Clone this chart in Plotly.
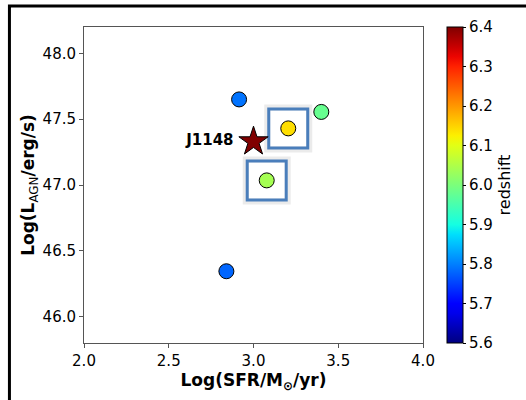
import numpy as np
import plotly.graph_objects as go

# Quasar sample: star formation rate vs AGN luminosity, coloured by redshift
log_sfr = [2.915, 3.40, 3.205, 3.078, 2.84]
log_lagn = [47.65, 47.555, 47.43, 47.035, 46.345]
redshift = [5.79, 5.98, 6.14, 6.04, 5.78]
boxed = [2, 3]

j1148_sfr = [3.0]
j1148_lagn = [47.33]
j1148_z = [6.42]
j1148_name = "J1148"

x_ticks = [2.0, 2.5, 3.0, 3.5, 4.0]
y_ticks = [46.0, 46.5, 47.0, 47.5, 48.0]
z_ticks = [5.6, 5.7, 5.8, 5.9, 6.0, 6.1, 6.2, 6.3, 6.4]

# matplotlib-style "jet" colour map
seg = {
    "r": [(0, 0), (0.35, 0), (0.66, 1), (0.89, 1), (1, 0.5)],
    "g": [(0, 0), (0.125, 0), (0.375, 1), (0.64, 1), (0.91, 0), (1, 0)],
    "b": [(0, 0.5), (0.11, 1), (0.34, 1), (0.65, 0), (1, 0)],
}
stops = np.linspace(0, 1, 33)
def chan(c):
    pts = seg[c]
    return np.interp(stops, [p[0] for p in pts], [p[1] for p in pts])
r, g, b = chan("r"), chan("g"), chan("b")
jet = [[float(s), f"rgb({int(round(rr*255))},{int(round(gg*255))},{int(round(bb*255))})"]
       for s, rr, gg, bb in zip(stops, r, g, b)]

FONT = "DejaVu Sans"
BOX = "#4a7ebb"
fig = go.Figure()

bx = [log_sfr[i] for i in boxed]
by = [log_lagn[i] for i in boxed]

# soft shadow behind the highlight boxes
fig.add_trace(go.Scatter(
    x=bx, y=by, mode="markers", hoverinfo="skip", showlegend=False,
    marker=dict(symbol="square-open", size=42, color="rgba(0,0,0,0.08)",
                line=dict(color="rgba(0,0,0,0.08)", width=6)),
))
fig.add_trace(go.Scatter(
    x=bx, y=by, mode="markers", hoverinfo="skip", showlegend=False,
    marker=dict(symbol="square-open", size=39, color=BOX,
                line=dict(color=BOX, width=3)),
))

fig.add_trace(go.Scatter(
    x=log_sfr, y=log_lagn, mode="markers", showlegend=False,
    marker=dict(size=15, color=redshift, coloraxis="coloraxis",
                line=dict(color="black", width=1)),
))

fig.add_trace(go.Scatter(
    x=j1148_sfr, y=j1148_lagn, mode="markers+text", showlegend=False,
    text=[j1148_name + " "], textposition="middle left",
    textfont=dict(family=FONT, size=15, color="black", weight="bold"),
    marker=dict(symbol="star", size=22, color=j1148_z, coloraxis="coloraxis",
                line=dict(color="black", width=1)),
))

L, R, T, B = 84, 101, 27, 57
W, H = 526, 400
pw, ph = W - L - R, H - T - B

# outer figure frame (right and bottom edges run past the canvas)
fig.add_shape(type="rect", xref="paper", yref="paper",
              x0=(9 - L) / pw, x1=(W + 10 - L) / pw,
              y0=-(B + 10) / ph, y1=(H - B - 6) / ph,
              line=dict(color="black", width=3), layer="below")

fig.update_layout(
    width=W, height=H,
    margin=dict(l=L, r=R, t=T, b=B),
    paper_bgcolor="white", plot_bgcolor="white",
    font=dict(family=FONT, size=15, color="black"),
    coloraxis=dict(
        colorscale=jet, cmin=5.6, cmax=6.4,
        colorbar=dict(
            x=(449 - L) / pw, xanchor="left", xpad=0, ypad=0,
            y=0.5, len=1.0, lenmode="fraction", thickness=16,
            outlinecolor="black", outlinewidth=1,
            tickvals=z_ticks, ticktext=[f"{v:.1f}" for v in z_ticks],
            ticks="outside", ticklen=3, tickcolor="black",
            tickfont=dict(family=FONT, size=15),
            title=dict(text="redshift", side="right",
                       font=dict(family=FONT, size=16)),
        ),
    ),
    xaxis=dict(
        range=[2.0, 4.0], tickvals=x_ticks,
        ticktext=[f"{v:.1f}" for v in x_ticks],
        showgrid=False, zeroline=False,
        showline=True, mirror=True, linecolor="#555555", linewidth=1,
        ticks="outside", ticklen=4, tickcolor="#555555",
        tickfont=dict(family=FONT, size=15),
        title=dict(text="<b>Log(SFR/M<sub>⊙</sub>/yr)</b>",
                   font=dict(family=FONT, size=17), standoff=3),
    ),
    yaxis=dict(
        range=[45.8, 48.2], tickvals=y_ticks,
        ticktext=[f"{v:.1f}" for v in y_ticks],
        showgrid=False, zeroline=False,
        showline=True, mirror=True, linecolor="#555555", linewidth=1,
        ticks="outside", ticklen=4, tickcolor="#555555",
        tickfont=dict(family=FONT, size=15),
        title=dict(text="<b>Log(L</b><sub>AGN</sub><b>/erg/s)</b>",
                   font=dict(family=FONT, size=17), standoff=3),
    ),
)

fig.write_html("out.html")
